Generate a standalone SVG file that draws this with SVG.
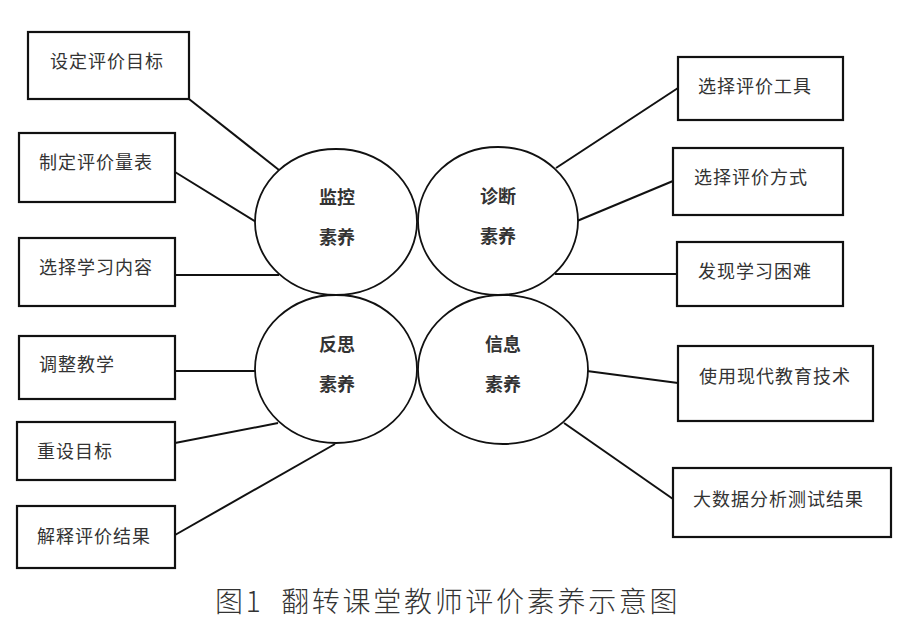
<svg xmlns="http://www.w3.org/2000/svg" width="909" height="629" viewBox="0 0 909 629">
<style>
.box{fill:#fff;stroke:#111;stroke-width:2.2}
.ell{fill:#fff;stroke:#111;stroke-width:1.8}
.lbl{font-family:"Liberation Sans","Noto Sans CJK SC",sans-serif;font-size:18px;fill:#333;letter-spacing:1px;dominant-baseline:central}
.core{font-family:"Liberation Serif","Noto Sans CJK SC",serif;font-size:18px;font-weight:bold;fill:#333;text-anchor:middle;dominant-baseline:central}
.cap{font-family:"Noto Sans CJK SC",sans-serif;font-size:28px;font-weight:300;fill:#333;letter-spacing:2.7px;white-space:pre}
.conn line{stroke:#111;stroke-width:2}
</style>
<rect width="909" height="629" fill="#fff"/>
<g id="connectors" class="conn">
<line x1="189" y1="99" x2="279" y2="170"/>
<line x1="175" y1="172" x2="256" y2="222"/>
<line x1="175" y1="275" x2="279" y2="275"/>
<line x1="556" y1="168" x2="678" y2="88"/>
<line x1="577" y1="221" x2="673" y2="181"/>
<line x1="555" y1="274" x2="677" y2="274"/>
<line x1="175" y1="371" x2="256" y2="371"/>
<line x1="175" y1="443" x2="278" y2="423"/>
<line x1="175" y1="535" x2="335" y2="444"/>
<line x1="587" y1="371" x2="678" y2="383"/>
<line x1="564" y1="423" x2="673" y2="499"/>
</g>
<g id="n-jiankong"><ellipse class="ell" cx="336" cy="222" rx="81" ry="73"/><text class="core" x="337" y="198">监控</text><text class="core" x="337" y="238">素养</text></g>
<g id="n-zhenduan"><ellipse class="ell" cx="498" cy="221" rx="80" ry="74"/><text class="core" x="498" y="197">诊断</text><text class="core" x="498" y="237">素养</text></g>
<g id="n-fansi"><ellipse class="ell" cx="336" cy="369" rx="81" ry="74"/><text class="core" x="337" y="345">反思</text><text class="core" x="337" y="385">素养</text></g>
<g id="n-xinxi"><ellipse class="ell" cx="503" cy="369.5" rx="85" ry="74.5"/><text class="core" x="503" y="345">信息</text><text class="core" x="503" y="385">素养</text></g>
<g id="b-sheding"><rect class="box" x="28" y="32" width="161" height="67"/><text class="lbl" x="50" y="62">设定评价目标</text></g>
<g id="b-zhiding"><rect class="box" x="19" y="133" width="156" height="69"/><text class="lbl" x="39" y="163">制定评价量表</text></g>
<g id="b-xuanze"><rect class="box" x="19" y="238" width="156" height="68"/><text class="lbl" x="39" y="268">选择学习内容</text></g>
<g id="b-tiaozheng"><rect class="box" x="19" y="336" width="156" height="63"/><text class="lbl" x="39" y="365">调整教学</text></g>
<g id="b-chongshe"><rect class="box" x="17" y="422" width="158" height="58"/><text class="lbl" x="37" y="452">重设目标</text></g>
<g id="b-jieshi"><rect class="box" x="17" y="506" width="158" height="62"/><text class="lbl" x="37" y="537">解释评价结果</text></g>
<g id="b-gongju"><rect class="box" x="678" y="57" width="165" height="63"/><text class="lbl" x="698" y="87">选择评价工具</text></g>
<g id="b-fangshi"><rect class="box" x="673" y="148" width="170" height="67"/><text class="lbl" x="694" y="178">选择评价方式</text></g>
<g id="b-kunnan"><rect class="box" x="677" y="242" width="166" height="64"/><text class="lbl" x="698" y="272">发现学习困难</text></g>
<g id="b-jishu"><rect class="box" x="678" y="346" width="195" height="75"/><text class="lbl" x="699" y="377">使用现代教育技术</text></g>
<g id="b-dashuju"><rect class="box" x="673" y="468" width="218" height="69"/><text class="lbl" x="693" y="500">大数据分析测试结果</text></g>
<text class="cap" x="215" y="612">图1  翻转课堂教师评价素养示意图</text>
</svg>
